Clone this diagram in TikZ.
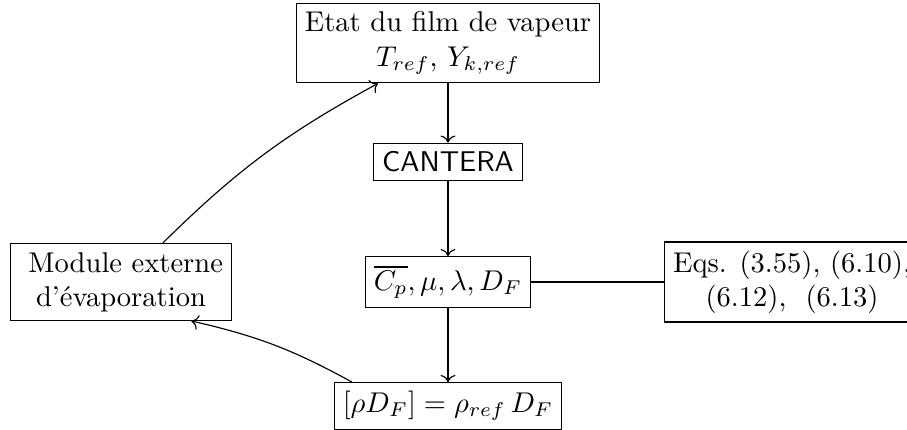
\documentclass[tikz,border=0pt]{standalone}
\usepackage{amsmath}
\usetikzlibrary{arrows.meta,positioning}
\tikzset{
  blk/.style={draw, align=center, inner sep=3pt, fill=white},
  ar/.style={->},
}
\begin{document}
\begin{tikzpicture}[x=0.35pt, y=-0.35pt]
  \useasboundingbox (0,0) rectangle (907,430);
  \node[blk] (etat) at (448,43) {Etat du film de vapeur\\$T_{ref}$, $Y_{k,ref}$};
  \node[blk, font=\sffamily] (cant) at (448,162) {CANTERA};
  \node[blk] (prop) at (448,282) {$\overline{C_p}, \mu, \lambda, D_F$};
  \node[blk] (rhod) at (448,406) {$[\rho D_F] = \rho_{ref}\, D_F$};
  \node[blk] (evap) at (121,282) {\ Module externe\\d'\'evaporation};
  \node[blk, anchor=west] (eqs) at (664,282) {Eqs. (3.55), (6.10),\\(6.12), \ (6.13)};
  % liens
  \draw[ar] (etat) -- (cant);
  \draw[ar] (cant) -- (prop);
  \draw[ar] (prop) -- (rhod);
  \draw (prop) -- (eqs);
  \draw[ar] (rhod.166) to[bend right=8] (evap.-29);
  \draw[ar] (evap.43) to[bend left=8] (etat.210);
\end{tikzpicture}
\end{document}
